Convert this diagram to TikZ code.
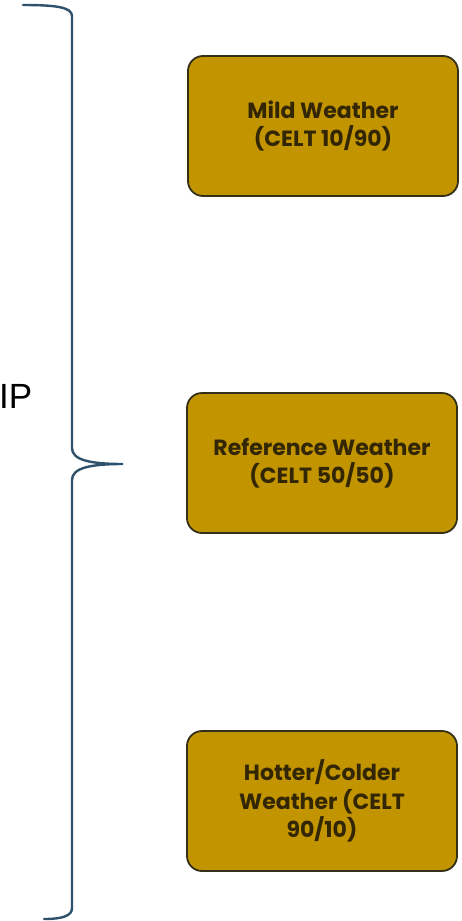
\documentclass[tikz,border=0pt]{standalone}
\usepackage{fontspec}
\setmainfont{Poppins}
\newfontfamily\labelfont{Liberation Sans}
\definecolor{gold}{RGB}{193,148,0}
\definecolor{boxedge}{RGB}{52,48,24}
\definecolor{boxtext}{RGB}{50,38,4}
\definecolor{bracecol}{RGB}{46,82,108}
\begin{document}
\begin{tikzpicture}[x=1pt,y=-1pt,
  scenario/.style={draw=boxedge, line width=1.8pt, fill=gold, rounded corners=15pt,
    minimum width=270pt, minimum height=140pt, align=center, text=boxtext,
    font=\fontsize{22}{28.5}\selectfont\bfseries, inner sep=0pt},
  bracestyle/.style={draw=bracecol, line width=2.4pt, line cap=round}]
\useasboundingbox (0,0) rectangle (462,921);
\node[scenario] (mild) at (323,126) {Mild Weather\\(CELT 10/90)};
\node[scenario] (ref) at (322,463) {Reference Weather\\(CELT 50/50)};
\node[scenario] (hot) at (322,801) {Hotter/Colder\\Weather (CELT\\90/10)};
\node[anchor=base west, inner sep=0pt, font=\labelfont\fontsize{35}{35}\selectfont] (ip) at (-1,408) {IP};
\coordinate (tip) at (123,464);
\path[bracestyle] (23,5) .. controls (55,5) and (72,7) .. (72,16)
  -- (72,448) .. controls (72,460) and (90,464) .. (tip)
  .. controls (90,464) and (72,468) .. (72,480)
  -- (72,908) .. controls (72,916) and (62,919) .. (44,919);
\end{tikzpicture}
\end{document}
